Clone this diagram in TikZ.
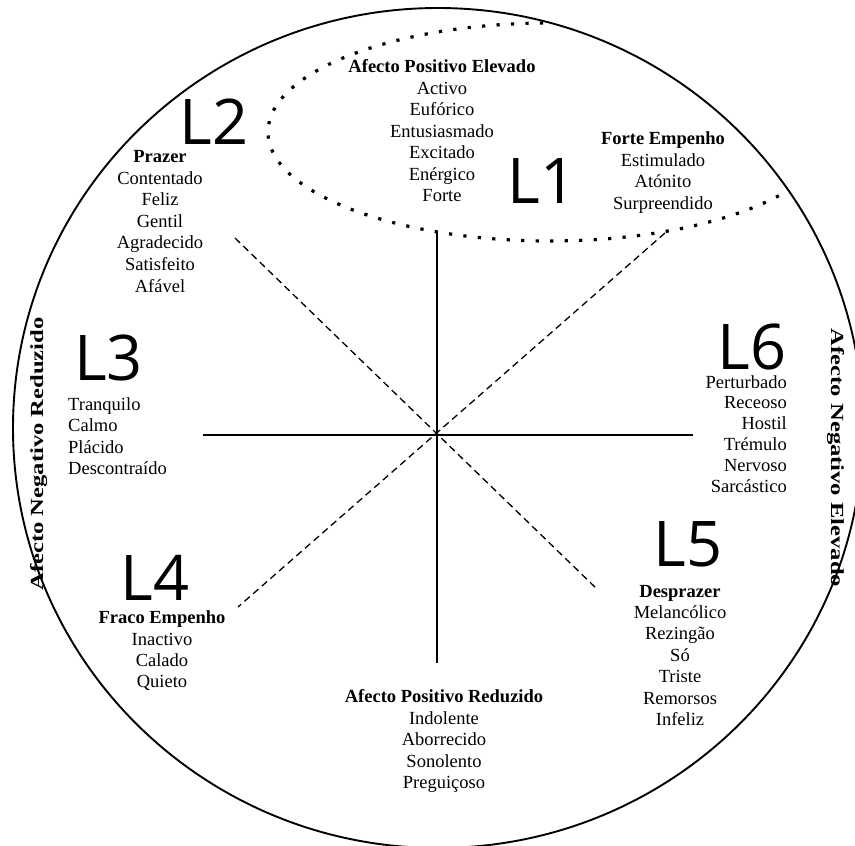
\documentclass[tikz,border=0pt]{standalone}
\usepackage{fontspec}
\setmainfont{Liberation Serif}[UprightFont={Liberation Serif}, BoldFont={Liberation Serif Bold}]
\newfontfamily\bigLfont{Open Sans}
\newcommand\wcol[6]{% prefix, x, first baseline, step, anchor, list
  \foreach \w [count=\i from 0] in {#6}
    \node[txt, anchor=#5] (#1\i) at (#2, {#3+#4*\i}) {\w};}
\begin{document}
\begin{tikzpicture}[x=1pt,y=-1pt,
  txt/.style={font=\rmfamily\mdseries\fontsize{18.5}{21.5}\selectfont, inner sep=0pt, anchor=base},
  hd/.style={txt, font=\rmfamily\bfseries\fontsize{18.5}{21.5}\selectfont},
  bigL/.style={font=\bigLfont\fontsize{63}{63}\selectfont, inner sep=0pt, anchor=base, text depth=0pt},
  axis/.style={line width=1.5pt},
  diag/.style={line width=1.3pt, dash pattern=on 7pt off 4.5pt},
  rim/.style={line width=1.9pt},
  dots/.style={line width=3.2pt, dash pattern=on 3.2pt off 11.3pt}]
\useasboundingbox (0,0) rectangle (855,846);

% outer ring and dotted region
\draw[rim] (438,428) ellipse [x radius=425, y radius=420];
\begin{scope}
  \clip (438,428) ellipse [x radius=425, y radius=420];
  \draw[dots] (550,132) ellipse [x radius=282, y radius=109];
\end{scope}

% axes
\coordinate (C) at (437,435);
\coordinate (axN) at (437,233);
\coordinate (axS) at (437,663);
\coordinate (axW) at (203,435);
\coordinate (axE) at (693,435);
\coordinate (dNW) at (235,238);
\coordinate (dSE) at (598,590);
\coordinate (dNE) at (665,233);
\coordinate (dSW) at (238,607);
\draw[axis] (axN) -- (axS);
\draw[axis] (axW) -- (axE);
\draw[diag] (dNW) -- (dSE);
\draw[diag] (dNE) -- (dSW);

% L1
\node[hd] (apeH) at (442,72.5) {Afecto Positivo Elevado};
\wcol{ape}{442}{94}{21.5}{base}{Activo,Eufórico,Entusiasmado,Excitado,Enérgico,Forte}
\node[bigL] (L1) at (542,203) {L1};
\node[hd] (feH) at (663,144) {Forte Empenho};
\wcol{fe}{663}{166}{21.5}{base}{Estimulado,Atónito,Surpreendido}

% L2
\node[bigL] (L2) at (214,144) {L2};
\node[hd] (prH) at (160,162) {Prazer};
\wcol{pr}{160}{184}{21.6}{base}{Contentado,Feliz,Gentil,Agradecido,Satisfeito,Afável}

% L3
\node[bigL, anchor=base west] (L3) at (74,380) {L3};
\wcol{tr}{68}{410}{21.5}{base west}{Tranquilo,Calmo,Plácido,Descontraído}

% L4
\node[bigL] (L4) at (155,600) {L4};
\node[hd] (fcH) at (162,623) {Fraco Empenho};
\wcol{fc}{162}{645}{21.4}{base}{Inactivo,Calado,Quieto}

% L5
\node[bigL] (L5) at (688,566) {L5};
\node[hd] (dsH) at (680,597) {Desprazer};
\wcol{ds}{680}{618}{21.5}{base}{Melancólico,Rezingão,Só,Triste,Remorsos,Infeliz}

% L6
\node[bigL] (L6) at (752,369) {L6};
\wcol{pe}{787}{388}{20.8}{base east}{Perturbado,Receoso,Hostil,Trémulo,Nervoso,Sarcástico}

% bottom
\node[hd] (aprH) at (444,702.5) {Afecto Positivo Reduzido};
\wcol{apr}{444}{724}{21.5}{base}{Indolente,Aborrecido,Sonolento,Preguiçoso}

% side labels
\node[hd, rotate=90] (anr) at (43,454) {\scalebox{1.33}[1]{Afecto Negativo Reduzido}};
\node[hd, rotate=-90] (ane) at (831,458) {\scalebox{1.33}[1]{Afecto Negativo Elevado}};
\end{tikzpicture}
\end{document}
